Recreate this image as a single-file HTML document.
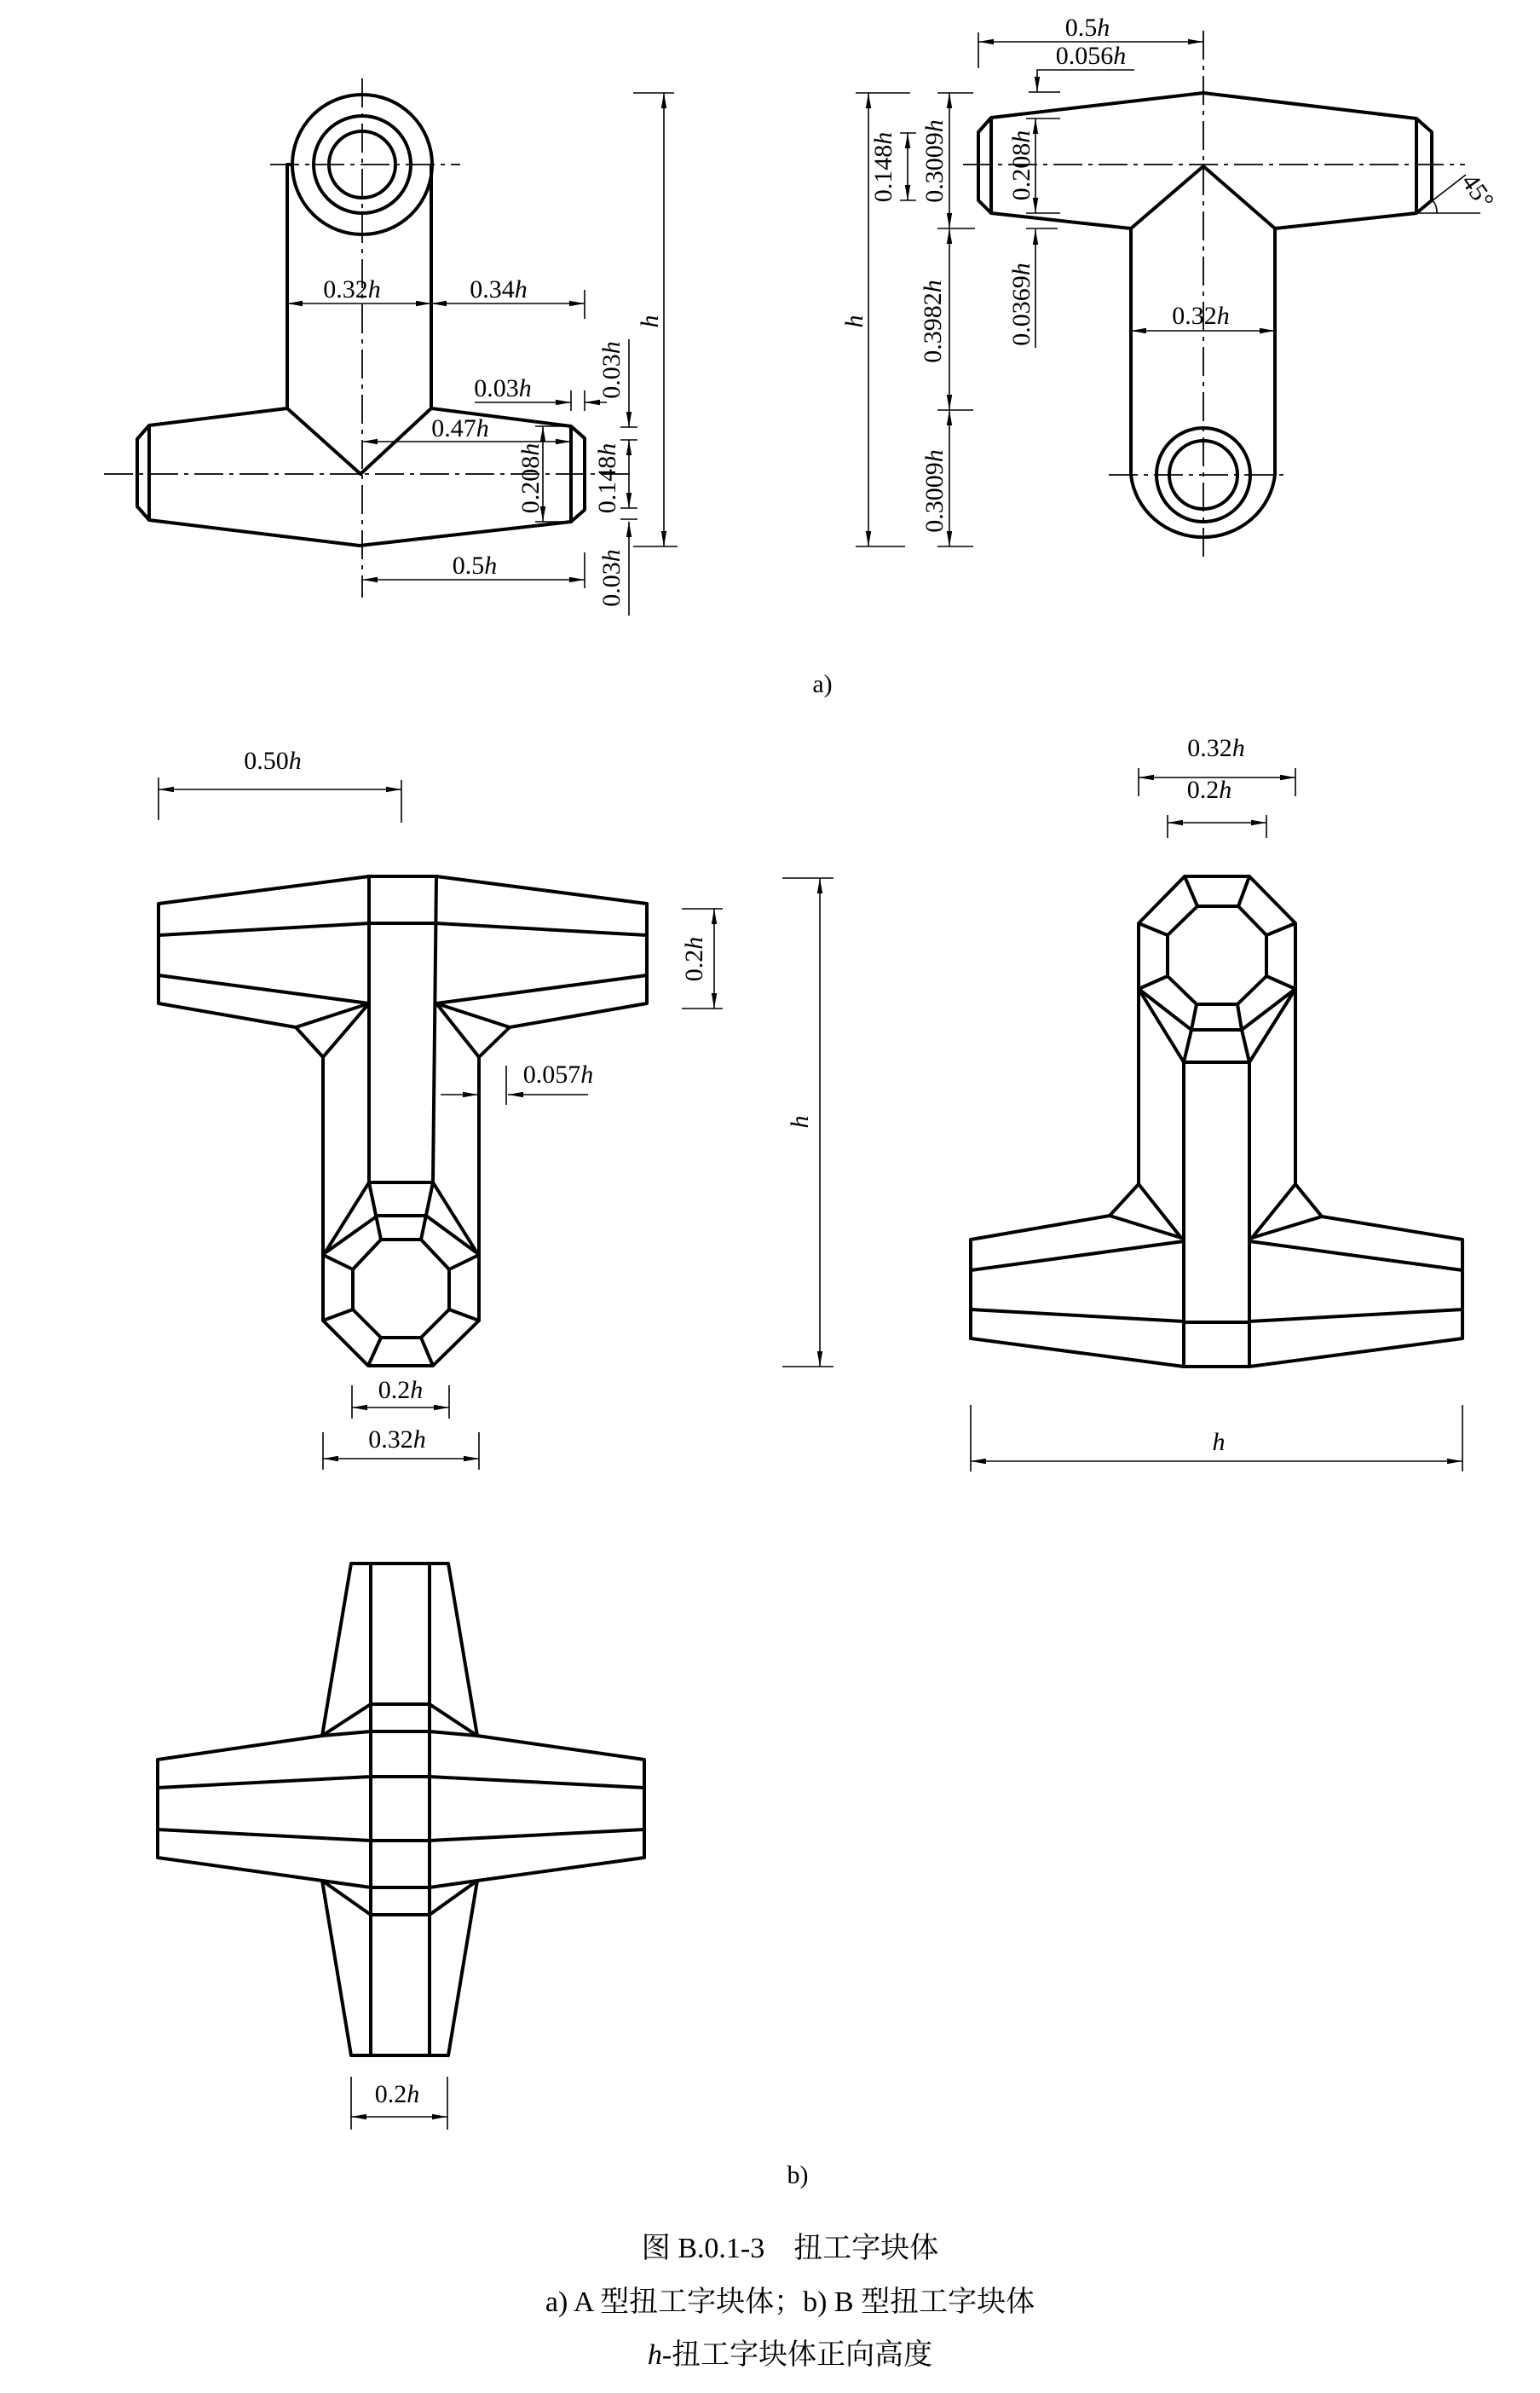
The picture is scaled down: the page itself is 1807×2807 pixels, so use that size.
<!DOCTYPE html>
<html><head><meta charset="utf-8"><style>
html,body{margin:0;padding:0;background:#fff;}
svg{display:block;}
text{font-family:"Liberation Serif","Noto Serif CJK SC",serif;fill:#000;}
.o{fill:none;stroke:#000;stroke-width:4;stroke-linejoin:round;}
.d{fill:none;stroke:#000;stroke-width:1.6;}
.c{fill:none;stroke:#000;stroke-width:1.8;stroke-dasharray:34 7 5 7;}
.t{font-size:30px;text-anchor:middle;}
</style></head><body>
<svg width="1807" height="2807" viewBox="0 0 1807 2807" xmlns="http://www.w3.org/2000/svg">
<defs>
<marker id="a" viewBox="0 0 18 8" refX="18" refY="4" markerWidth="18" markerHeight="8" markerUnits="userSpaceOnUse" orient="auto-start-reverse"><path d="M0,0.8 L18,4 L0,7.2 Z" fill="#000"/></marker>
</defs>

<!-- ===== a) left : A type ===== -->
<g>
<line class="c" x1="317" y1="193" x2="540" y2="193"/>
<line class="c" x1="425" y1="92" x2="425" y2="701"/>
<line class="c" x1="122" y1="556" x2="740" y2="556"/>
<circle class="o" cx="425" cy="193" r="82"/>
<circle class="o" cx="425" cy="193" r="57"/>
<circle class="o" cx="425" cy="193" r="39"/>
<polyline class="o" points="343,193 337,193 337,479 175,499 175,610 422,640 670,612 670,500 506,479 506,193"/>
<polyline class="o" points="337,479 423,556 506,479"/>
<polyline class="o" points="175,499 161,515 161,594 175,610"/>
<polyline class="o" points="670,500 686,514 686,598 670,612"/>
<line class="d" x1="337" y1="356" x2="506" y2="356" marker-start="url(#a)" marker-end="url(#a)"/>
<text class="t" x="413" y="349">0.32<tspan font-style="italic">h</tspan></text>
<line class="d" x1="506" y1="356" x2="686" y2="356" marker-start="url(#a)" marker-end="url(#a)"/>
<text class="t" x="585" y="349">0.34<tspan font-style="italic">h</tspan></text>
<line class="d" x1="686" y1="340" x2="686" y2="374"/>
<line class="d" x1="557" y1="472" x2="670" y2="472" marker-end="url(#a)"/>
<line class="d" x1="712" y1="472" x2="686" y2="472" marker-end="url(#a)"/>
<line class="d" x1="670" y1="458" x2="670" y2="482"/>
<line class="d" x1="686" y1="458" x2="686" y2="482"/>
<text class="t" x="590" y="465">0.03<tspan font-style="italic">h</tspan></text>
<line class="d" x1="425" y1="518" x2="670" y2="518" marker-start="url(#a)" marker-end="url(#a)"/>
<text class="t" x="540" y="512">0.47<tspan font-style="italic">h</tspan></text>
<line class="d" x1="637" y1="500" x2="637" y2="612" marker-start="url(#a)" marker-end="url(#a)"/>
<line class="d" x1="628" y1="500" x2="670" y2="500"/>
<line class="d" x1="628" y1="612" x2="670" y2="612"/>
<text class="t" transform="translate(632,561) rotate(-90)">0.208<tspan font-style="italic">h</tspan></text>
<line class="d" x1="738" y1="516" x2="738" y2="596" marker-start="url(#a)" marker-end="url(#a)"/>
<line class="d" x1="728" y1="516" x2="748" y2="516"/>
<line class="d" x1="728" y1="596" x2="748" y2="596"/>
<line class="d" x1="728" y1="501" x2="748" y2="501"/>
<line class="d" x1="728" y1="609" x2="748" y2="609"/>
<text class="t" transform="translate(722,561) rotate(-90)">0.148<tspan font-style="italic">h</tspan></text>
<line class="d" x1="738" y1="398" x2="738" y2="501" marker-end="url(#a)"/>
<text class="t" transform="translate(727,434) rotate(-90)">0.03<tspan font-style="italic">h</tspan></text>
<line class="d" x1="738" y1="722" x2="738" y2="612" marker-end="url(#a)"/>
<text class="t" transform="translate(727,678) rotate(-90)">0.03<tspan font-style="italic">h</tspan></text>
<line class="d" x1="779" y1="109" x2="779" y2="641" marker-start="url(#a)" marker-end="url(#a)"/>
<line class="d" x1="743" y1="109" x2="791" y2="109"/>
<line class="d" x1="743" y1="641" x2="795" y2="641"/>
<text class="t" font-style="italic" transform="translate(772,377) rotate(-90)">h</text>
<line class="d" x1="425" y1="680" x2="686" y2="680" marker-start="url(#a)" marker-end="url(#a)"/>
<line class="d" x1="686" y1="648" x2="686" y2="690"/>
<text class="t" x="557" y="673">0.5<tspan font-style="italic">h</tspan></text>
</g>

<!-- ===== a) right : B type ===== -->
<g>
<line class="c" x1="1412" y1="36" x2="1412" y2="655"/>
<line class="c" x1="1130" y1="193" x2="1719" y2="193"/>
<line class="c" x1="1301" y1="557" x2="1513" y2="557"/>
<polyline class="o" points="1327,557 1327,268 1163,250 1163,138 1412,109 1662,139 1662,250 1496,268 1496,557"/>
<polyline class="o" points="1327,268 1412,195 1496,268"/>
<polyline class="o" points="1163,138 1148,155 1148,235 1163,250"/>
<polyline class="o" points="1662,139 1680,155 1680,235 1662,250"/>
<path class="o" d="M1327,557 A85,82 0 0 0 1496,557"/>
<circle class="o" cx="1412" cy="557" r="55"/>
<circle class="o" cx="1412" cy="557" r="40"/>
<line class="d" x1="1663" y1="250" x2="1737" y2="250"/>
<line class="d" x1="1663" y1="249" x2="1720" y2="205" stroke-width="2.5"/>
<path class="d" d="M1681,235 A22,22 0 0 1 1686,250"/>
<text class="t" font-size="28" transform="translate(1726,230) rotate(55)">45°</text>
<line class="d" x1="1148" y1="49" x2="1412" y2="49" marker-start="url(#a)" marker-end="url(#a)"/>
<line class="d" x1="1148" y1="38" x2="1148" y2="80"/>
<text class="t" x="1276" y="42">0.5<tspan font-style="italic">h</tspan></text>
<polyline class="d" points="1331,82 1217,82 1217,108" marker-end="url(#a)"/>
<line class="d" x1="1207" y1="108" x2="1244" y2="108"/>
<text class="t" x="1280" y="75">0.056<tspan font-style="italic">h</tspan></text>
<line class="d" x1="1019" y1="109" x2="1019" y2="641" marker-start="url(#a)" marker-end="url(#a)"/>
<line class="d" x1="1004" y1="109" x2="1068" y2="109"/>
<line class="d" x1="1004" y1="641" x2="1062" y2="641"/>
<text class="t" font-style="italic" transform="translate(1012,377) rotate(-90)">h</text>
<line class="d" x1="1114" y1="109" x2="1114" y2="268" marker-start="url(#a)" marker-end="url(#a)"/>
<line class="d" x1="1114" y1="268" x2="1114" y2="481" marker-start="url(#a)" marker-end="url(#a)"/>
<line class="d" x1="1114" y1="481" x2="1114" y2="641" marker-start="url(#a)" marker-end="url(#a)"/>
<line class="d" x1="1100" y1="109" x2="1142" y2="109"/>
<line class="d" x1="1100" y1="268" x2="1144" y2="268"/>
<line class="d" x1="1100" y1="481" x2="1142" y2="481"/>
<line class="d" x1="1100" y1="641" x2="1142" y2="641"/>
<text class="t" transform="translate(1106,189) rotate(-90)">0.3009<tspan font-style="italic">h</tspan></text>
<text class="t" transform="translate(1104,377) rotate(-90)">0.3982<tspan font-style="italic">h</tspan></text>
<text class="t" transform="translate(1106,576) rotate(-90)">0.3009<tspan font-style="italic">h</tspan></text>
<line class="d" x1="1065" y1="156" x2="1065" y2="235" marker-start="url(#a)" marker-end="url(#a)"/>
<line class="d" x1="1056" y1="156" x2="1075" y2="156"/>
<line class="d" x1="1056" y1="235" x2="1075" y2="235"/>
<text class="t" transform="translate(1046,196) rotate(-90)">0.148<tspan font-style="italic">h</tspan></text>
<line class="d" x1="1215" y1="139" x2="1215" y2="250" marker-start="url(#a)" marker-end="url(#a)"/>
<line class="d" x1="1204" y1="139" x2="1244" y2="139"/>
<line class="d" x1="1204" y1="250" x2="1244" y2="250"/>
<text class="t" transform="translate(1208,194) rotate(-90)">0.208<tspan font-style="italic">h</tspan></text>
<line class="d" x1="1215" y1="408" x2="1215" y2="269" marker-end="url(#a)"/>
<line class="d" x1="1204" y1="268" x2="1241" y2="268"/>
<text class="t" transform="translate(1208,357) rotate(-90)">0.0369<tspan font-style="italic">h</tspan></text>
<line class="d" x1="1327" y1="388" x2="1496" y2="388" marker-start="url(#a)" marker-end="url(#a)"/>
<text class="t" x="1409" y="380">0.32<tspan font-style="italic">h</tspan></text>
</g>
<text class="t" x="965" y="812">a)</text>

<!-- ===== b) left ===== -->
<g>
<line class="d" x1="186" y1="926" x2="471" y2="926" marker-start="url(#a)" marker-end="url(#a)"/>
<line class="d" x1="186" y1="912" x2="186" y2="962"/>
<line class="d" x1="471" y1="915" x2="471" y2="965"/>
<text class="t" x="320" y="902">0.50<tspan font-style="italic">h</tspan></text>
<polygon class="o" points="186,1060 433,1028 512,1028 759,1060 759,1177 598,1205 562,1240 562,1549 508,1602 432,1602 379,1549 379,1240 347,1205 186,1177"/>
<line class="o" x1="186" y1="1097" x2="433" y2="1083"/><line class="o" x1="512" y1="1083" x2="759" y2="1097"/>
<line class="o" x1="186" y1="1144" x2="433" y2="1177"/><line class="o" x1="512" y1="1177" x2="759" y2="1144"/>
<line class="o" x1="433" y1="1028" x2="433" y2="1387"/><line class="o" x1="512" y1="1028" x2="508" y2="1387"/>
<line class="o" x1="433" y1="1083" x2="512" y2="1083"/>
<polyline class="o" points="347,1205 433,1177 379,1240"/>
<polyline class="o" points="598,1205 512,1177 562,1240"/>
<line class="o" x1="433" y1="1387" x2="508" y2="1387"/>
<line class="o" x1="443" y1="1426" x2="500" y2="1426"/>
<polyline class="o" points="433,1387 447,1454"/><polyline class="o" points="508,1387 494,1454"/>
<line class="o" x1="433" y1="1387" x2="381" y2="1470"/><line class="o" x1="508" y1="1387" x2="560" y2="1470"/>
<line class="o" x1="443" y1="1426" x2="381" y2="1470"/><line class="o" x1="500" y1="1426" x2="560" y2="1470"/>
<polygon class="o" points="414,1489 447,1454 494,1454 527,1489 527,1536 494,1569 447,1569 414,1536"/>
<line class="o" x1="379" y1="1472" x2="414" y2="1489"/><line class="o" x1="379" y1="1549" x2="414" y2="1536"/>
<line class="o" x1="432" y1="1602" x2="447" y2="1569"/><line class="o" x1="508" y1="1602" x2="494" y2="1569"/>
<line class="o" x1="562" y1="1549" x2="527" y2="1536"/><line class="o" x1="562" y1="1472" x2="527" y2="1489"/>
<line class="d" x1="517" y1="1284" x2="561" y2="1284" marker-end="url(#a)"/>
<line class="d" x1="690" y1="1284" x2="596" y2="1284" marker-end="url(#a)"/>
<line class="d" x1="594" y1="1250" x2="594" y2="1296"/>
<text class="t" x="655" y="1270">0.057<tspan font-style="italic">h</tspan></text>
<line class="d" x1="413" y1="1651" x2="527" y2="1651" marker-start="url(#a)" marker-end="url(#a)"/>
<line class="d" x1="413" y1="1625" x2="413" y2="1664"/><line class="d" x1="527" y1="1625" x2="527" y2="1664"/>
<text class="t" x="470" y="1640">0.2<tspan font-style="italic">h</tspan></text>
<line class="d" x1="379" y1="1711" x2="562" y2="1711" marker-start="url(#a)" marker-end="url(#a)"/>
<line class="d" x1="379" y1="1680" x2="379" y2="1724"/><line class="d" x1="562" y1="1680" x2="562" y2="1724"/>
<text class="t" x="466" y="1698">0.32<tspan font-style="italic">h</tspan></text>
</g>

<line class="d" x1="962" y1="1030" x2="962" y2="1603" marker-start="url(#a)" marker-end="url(#a)"/>
<line class="d" x1="918" y1="1030" x2="978" y2="1030"/>
<line class="d" x1="918" y1="1603" x2="978" y2="1603"/>
<text class="t" font-style="italic" transform="translate(948,1316) rotate(-90)">h</text>
<line class="d" x1="800" y1="1066" x2="848" y2="1066" />
<line class="d" x1="838" y1="1066" x2="838" y2="1183" marker-start="url(#a)" marker-end="url(#a)"/>
<line class="d" x1="800" y1="1183" x2="848" y2="1183"/>
<text class="t" transform="translate(824,1125) rotate(-90)">0.2<tspan font-style="italic">h</tspan></text>

<!-- ===== b) right ===== -->
<g>
<line class="d" x1="1336" y1="912" x2="1520" y2="912" marker-start="url(#a)" marker-end="url(#a)"/>
<line class="d" x1="1336" y1="901" x2="1336" y2="934"/><line class="d" x1="1520" y1="901" x2="1520" y2="934"/>
<text class="t" x="1427" y="887">0.32<tspan font-style="italic">h</tspan></text>
<line class="d" x1="1370" y1="965" x2="1486" y2="965" marker-start="url(#a)" marker-end="url(#a)"/>
<line class="d" x1="1370" y1="956" x2="1370" y2="983"/><line class="d" x1="1486" y1="956" x2="1486" y2="983"/>
<text class="t" x="1419" y="936">0.2<tspan font-style="italic">h</tspan></text>
<polygon class="o" points="1336,1083 1390,1028 1466,1028 1520,1083 1520,1389 1551,1427 1716,1454 1716,1570 1466,1603 1389,1603 1139,1570 1139,1454 1302,1426 1336,1389"/>
<polygon class="o" points="1370,1097 1405,1063 1453,1063 1486,1097 1486,1145 1452,1178 1404,1178 1370,1145"/>
<line class="o" x1="1336" y1="1083" x2="1370" y2="1097"/><line class="o" x1="1390" y1="1028" x2="1405" y2="1063"/>
<line class="o" x1="1466" y1="1028" x2="1453" y2="1063"/><line class="o" x1="1520" y1="1083" x2="1486" y2="1097"/>
<line class="o" x1="1520" y1="1160" x2="1486" y2="1145"/><line class="o" x1="1336" y1="1160" x2="1370" y2="1145"/>
<polyline class="o" points="1404,1178 1398,1208 1389,1246"/><polyline class="o" points="1452,1178 1457,1208 1466,1246"/>
<line class="o" x1="1398" y1="1208" x2="1457" y2="1208"/>
<line class="o" x1="1389" y1="1246" x2="1466" y2="1246"/>
<polyline class="o" points="1398,1208 1336,1160 1389,1246"/>
<polyline class="o" points="1457,1208 1520,1160 1466,1246"/>
<line class="o" x1="1389" y1="1246" x2="1389" y2="1603"/><line class="o" x1="1466" y1="1246" x2="1466" y2="1603"/>
<line class="o" x1="1389" y1="1551" x2="1466" y2="1551"/>
<polyline class="o" points="1302,1426 1386,1452 1336,1389"/>
<polyline class="o" points="1551,1427 1469,1452 1520,1389"/>
<line class="o" x1="1139" y1="1490" x2="1389" y2="1456"/><line class="o" x1="1466" y1="1456" x2="1716" y2="1490"/>
<line class="o" x1="1139" y1="1536" x2="1389" y2="1550"/><line class="o" x1="1466" y1="1550" x2="1716" y2="1536"/>
<line class="d" x1="1139" y1="1714" x2="1716" y2="1714" marker-start="url(#a)" marker-end="url(#a)"/>
<line class="d" x1="1139" y1="1648" x2="1139" y2="1726"/><line class="d" x1="1716" y1="1648" x2="1716" y2="1726"/>
<text class="t" font-style="italic" x="1430" y="1701">h</text>
</g>

<!-- ===== b) bottom cross ===== -->
<g>
<polygon class="o" points="412,1834 526,1834 560,2036 756,2064 756,2179 560,2206 526,2411 412,2411 378,2206 185,2179 185,2064 378,2036"/>
<line class="o" x1="435" y1="1834" x2="435" y2="2411"/><line class="o" x1="504" y1="1834" x2="504" y2="2411"/>
<line class="o" x1="435" y1="1999" x2="504" y2="1999"/>
<line class="o" x1="378" y1="2036" x2="435" y2="1999"/><line class="o" x1="560" y1="2036" x2="504" y2="1999"/>
<line class="o" x1="378" y1="2036" x2="435" y2="2031"/><line class="o" x1="560" y1="2036" x2="504" y2="2031"/>
<line class="o" x1="435" y1="2031" x2="504" y2="2031"/>
<line class="o" x1="185" y1="2097" x2="435" y2="2084"/><line class="o" x1="504" y1="2084" x2="756" y2="2097"/>
<line class="o" x1="435" y1="2084" x2="504" y2="2084"/>
<line class="o" x1="185" y1="2146" x2="435" y2="2159"/><line class="o" x1="504" y1="2159" x2="756" y2="2146"/>
<line class="o" x1="435" y1="2159" x2="504" y2="2159"/>
<line class="o" x1="378" y1="2206" x2="435" y2="2214"/><line class="o" x1="560" y1="2206" x2="504" y2="2214"/>
<line class="o" x1="435" y1="2214" x2="504" y2="2214"/>
<line class="o" x1="378" y1="2206" x2="435" y2="2246"/><line class="o" x1="560" y1="2206" x2="504" y2="2246"/>
<line class="o" x1="435" y1="2246" x2="504" y2="2246"/>
<line class="d" x1="412" y1="2483" x2="525" y2="2483" marker-start="url(#a)" marker-end="url(#a)"/>
<line class="d" x1="412" y1="2436" x2="412" y2="2498"/><line class="d" x1="525" y1="2436" x2="525" y2="2498"/>
<text class="t" x="466" y="2466">0.2<tspan font-style="italic">h</tspan></text>
</g>

<text class="t" x="936" y="2561">b)</text>
<text font-size="34" text-anchor="middle" x="927" y="2648" font-family="Liberation Serif, Noto Serif CJK SC, serif">图 B.0.1-3　扭工字块体</text>
<text font-size="34" text-anchor="middle" x="927" y="2711" font-family="Liberation Serif, Noto Serif CJK SC, serif">a) A 型扭工字块体；b) B 型扭工字块体</text>
<text font-size="34" text-anchor="middle" x="927" y="2773" font-family="Liberation Serif, Noto Serif CJK SC, serif"><tspan font-style="italic">h</tspan>-扭工字块体正向高度</text>
</svg>
</body></html>
